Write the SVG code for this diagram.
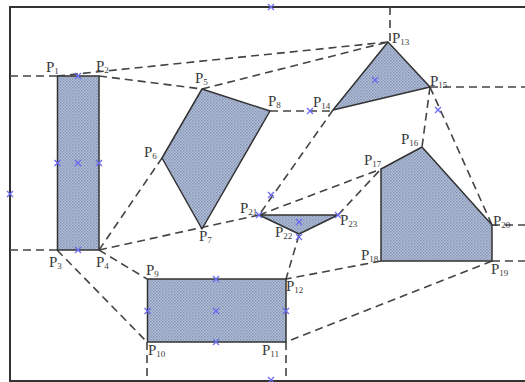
<svg xmlns="http://www.w3.org/2000/svg" width="525" height="382" viewBox="0 0 525 382">
<style>
.frame{stroke:#333;stroke-width:2;fill:none}
.dash{stroke:#444;stroke-width:1.6;stroke-dasharray:8,5;fill:none}
.shape{fill:url(#dots);stroke:#333;stroke-width:1.5;stroke-linejoin:round}
.x{stroke:#6b6bf0;stroke-width:1.3;fill:none}
.lbl{font-family:"Liberation Serif","Times New Roman",serif;font-size:15px;fill:#3a3a3a}
.sub{font-size:9px}
</style>
<defs>
<pattern id="dots" width="3" height="3" patternUnits="userSpaceOnUse">
<rect width="3" height="3" fill="#b3c1da"/>
<rect x="0" y="0" width="1.5" height="1.5" fill="#8392b2"/>
<rect x="1.5" y="1.5" width="1.5" height="1.5" fill="#8f9dbb"/>
</pattern>
<path id="cx" d="M-3,-3L3,3M-3,3L3,-3"/>
</defs>
<rect width="525" height="382" fill="#fff"/>
<g id="frame">
<path class="frame" d="M525,7H10V381H525"/>
</g>
<g id="connectors">
<path class="dash" d="M10,76H57"/>
<path class="dash" d="M57,76L388,42"/>
<path class="dash" d="M99,76L202,89"/>
<path class="dash" d="M202,89L388,42"/>
<path class="dash" d="M390,7V42"/>
<path class="dash" d="M430,87H525"/>
<path class="dash" d="M270,111H333"/>
<path class="dash" d="M333,110L259,215"/>
<path class="dash" d="M430,87L422,147"/>
<path class="dash" d="M430,87L492,225"/>
<path class="dash" d="M492,225H525"/>
<path class="dash" d="M492,261H525"/>
<path class="dash" d="M10,250H57"/>
<path class="dash" d="M99,250L162,158"/>
<path class="dash" d="M99,250L259,215"/>
<path class="dash" d="M259,215L381,169"/>
<path class="dash" d="M338,215L381,169"/>
<path class="dash" d="M299,235L286,279"/>
<path class="dash" d="M99,250L147,279"/>
<path class="dash" d="M57,250L147,342"/>
<path class="dash" d="M381,261L286,279"/>
<path class="dash" d="M492,261L286,342"/>
<path class="dash" d="M147,342V381"/>
<path class="dash" d="M286,342V381"/>
</g>
<g id="rect-P1-P4">
<rect class="shape" x="57.5" y="76" width="41.5" height="174"/>
</g>
<g id="quad-P5-P8">
<polygon class="shape" points="202,89 270,111 202,229 162,158"/>
</g>
<g id="tri-P13-P15">
<polygon class="shape" points="388,42 430,87 333,110"/>
</g>
<g id="tri-P21-P23">
<polygon class="shape" points="259,215 338,215 299,234"/>
</g>
<g id="penta-P16-P20">
<polygon class="shape" points="381,169 422,147 492,225 492,261 381,261"/>
</g>
<g id="rect-P9-P12">
<rect class="shape" x="147.5" y="279" width="138.5" height="63"/>
</g>
<g id="markers">
<use class="x" href="#cx" x="271" y="7"/>
<use class="x" href="#cx" x="10" y="194"/>
<use class="x" href="#cx" x="271" y="380"/>
<use class="x" href="#cx" x="78" y="76"/>
<use class="x" href="#cx" x="57.5" y="163"/>
<use class="x" href="#cx" x="78" y="163"/>
<use class="x" href="#cx" x="99" y="163"/>
<use class="x" href="#cx" x="78" y="250"/>
<use class="x" href="#cx" x="375" y="80"/>
<use class="x" href="#cx" x="310" y="111"/>
<use class="x" href="#cx" x="438" y="110"/>
<use class="x" href="#cx" x="271" y="195"/>
<use class="x" href="#cx" x="259" y="215"/>
<use class="x" href="#cx" x="338" y="215"/>
<use class="x" href="#cx" x="299" y="222"/>
<use class="x" href="#cx" x="299" y="237"/>
<use class="x" href="#cx" x="216" y="279"/>
<use class="x" href="#cx" x="147.5" y="311"/>
<use class="x" href="#cx" x="216" y="311"/>
<use class="x" href="#cx" x="286" y="311"/>
<use class="x" href="#cx" x="216" y="342"/>
</g>
<g id="labels" class="lbl">
<text x="46" y="72">P<tspan class="sub" dy="2">1</tspan></text>
<text x="96" y="71">P<tspan class="sub" dy="2">2</tspan></text>
<text x="49" y="267">P<tspan class="sub" dy="2">3</tspan></text>
<text x="96" y="267">P<tspan class="sub" dy="2">4</tspan></text>
<text x="195" y="83">P<tspan class="sub" dy="2">5</tspan></text>
<text x="144" y="157">P<tspan class="sub" dy="2">6</tspan></text>
<text x="199" y="241">P<tspan class="sub" dy="2">7</tspan></text>
<text x="268" y="106">P<tspan class="sub" dy="2">8</tspan></text>
<text x="146" y="275">P<tspan class="sub" dy="2">9</tspan></text>
<text x="148" y="355">P<tspan class="sub" dy="2">10</tspan></text>
<text x="262" y="355">P<tspan class="sub" dy="2">11</tspan></text>
<text x="286" y="291">P<tspan class="sub" dy="2">12</tspan></text>
<text x="392" y="43">P<tspan class="sub" dy="2">13</tspan></text>
<text x="313" y="107">P<tspan class="sub" dy="2">14</tspan></text>
<text x="430" y="86">P<tspan class="sub" dy="2">15</tspan></text>
<text x="401" y="144">P<tspan class="sub" dy="2">16</tspan></text>
<text x="364" y="165">P<tspan class="sub" dy="2">17</tspan></text>
<text x="361" y="260">P<tspan class="sub" dy="2">18</tspan></text>
<text x="491" y="274">P<tspan class="sub" dy="2">19</tspan></text>
<text x="493" y="226">P<tspan class="sub" dy="2">20</tspan></text>
<text x="240" y="213">P<tspan class="sub" dy="2">21</tspan></text>
<text x="275" y="237">P<tspan class="sub" dy="2">22</tspan></text>
<text x="340" y="225">P<tspan class="sub" dy="2">23</tspan></text>
</g>
</svg>
